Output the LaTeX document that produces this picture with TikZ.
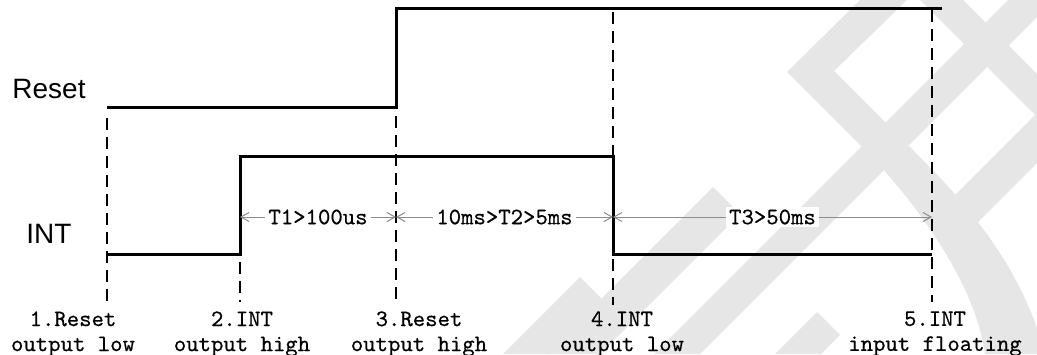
\documentclass[tikz,border=0pt]{standalone}
\usepackage{fontspec}
\setsansfont{Liberation Sans}
\newfontfamily\notefont{lmmono10-regular.otf}[FakeBold=0.5]
\usetikzlibrary{arrows.meta}

\definecolor{wmgray}{RGB}{230,230,230}
\definecolor{spangray}{RGB}{140,140,140}

\tikzset{
  sig/.style={line width=1.5pt},
  guide/.style={dashed, dash pattern=on 6pt off 3.5pt, line width=0.9pt},
  span/.style={spangray, line width=0.5pt,
    {Straight Barb[length=4pt,width=4.5pt]}-{Straight Barb[length=4pt,width=4.5pt]}},
  spanlbl/.style={fill=white, text=black, inner sep=1.5pt,
    font=\notefont\fontsize{11.8}{12.5}\selectfont},
  note/.style={align=center, anchor=north, inner sep=0pt,
    font=\notefont\fontsize{11.8}{12.5}\selectfont},
  signame/.style={font=\sffamily\fontsize{14}{16}\selectfont},
  wm/.style={fill=wmgray, draw=none}
}

\begin{document}
\begin{tikzpicture}[x=0.5pt,y=-0.5pt]
\useasboundingbox (0,0) rectangle (1037,354);

% watermark
\begin{scope}
\clip (0,0) rectangle (1037,354);
\fill[wm] (860,0) -- (787,72) -- (862,147) .. controls (910,195) and (975,280) .. (985,354)
  -- (1045,354) .. controls (1020,260) and (960,197) .. (910,147) -- (834,71) -- (907,0) -- cycle;
\fill[wm] (920,0) -- (963,0) -- (1045,82) -- (1045,125) -- cycle;
\fill[wm] (1008,0) -- (1054,0) -- (700,354) -- (654,354) -- cycle;
\fill[wm] (1045,105) -- (1045,155) -- (975,225) -- (950,200) -- cycle;
\fill[wm] (713,187) -- (740,214) -- (600,354) -- (546,354) -- cycle;
\fill[wm] (580,277) -- (603,300) -- (549,354) -- (503,354) -- cycle;
\fill[wm] (817,312) -- (840,335) -- (821,354) -- (775,354) -- cycle;
\end{scope}

% signal names
\node[signame] (reset) at (49,89) {Reset};
\node[signame] (int) at (49,234) {INT};

% Reset waveform
\coordinate (r0) at (107,107);
\coordinate (r1) at (396,107);
\coordinate (r2) at (396,8);
\coordinate (r3) at (942,8);
\draw[sig] (r0) -- (r1) -- (r2) -- (r3);

% INT waveform
\coordinate (i0) at (107,254);
\coordinate (i1) at (240,254);
\coordinate (i2) at (240,156);
\coordinate (i3) at (613,156);
\coordinate (i4) at (613,254);
\coordinate (i5) at (932,254);
\draw[sig] (i0) -- (i1) -- (i2) -- (i3) -- (i4) -- (i5);

% event markers
\foreach \x/\ya/\yb [count=\k] in {107/118/305, 240/262/302, 396/116/302, 613/12/305, 932/10/302}
  \draw[guide] (\x,\ya) coordinate (g\k top) -- (\x,\yb) coordinate (g\k bot);

% timing spans
\coordinate (d1) at (240,217);
\coordinate (d2) at (396,217);
\coordinate (d3) at (613,217);
\coordinate (d4) at (932,217);
\draw[span] (d1) -- node[spanlbl] (t1) {T1>100us} (d2);
\draw[span] (d2) -- node[spanlbl] (t2) {10ms>T2>5ms} (d3);
\draw[span] (d3) -- node[spanlbl] (t3) {T3>50ms} (d4);

% event notes
\node[note] (n1) at (73,311) {1.Reset\\output low};
\node[note] (n2) at (242,311) {2.INT\\output high};
\node[note] (n3) at (419,311) {3.Reset\\output high};
\node[note] (n4) at (622,311) {4.INT\\output low};
\node[note] (n5) at (935,311) {5.INT\\input floating};
\end{tikzpicture}
\end{document}
